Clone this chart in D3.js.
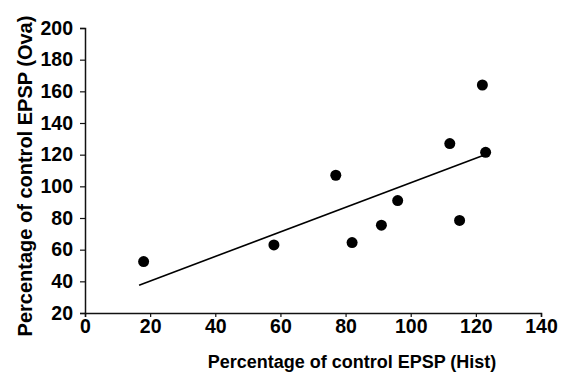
<!DOCTYPE html>
<html>
<head>
<meta charset="utf-8">
<script src="https://cdnjs.cloudflare.com/ajax/libs/d3/7.8.5/d3.min.js"></script>
<style>
  body { margin: 0; background: #fff; }
  svg { display: block; font-family: "Liberation Sans", Arial, sans-serif; }
</style>
</head>
<body>
<div class="viz"></div>
<script>
// values
let histValues = [18, 58, 77, 82, 91, 96, 112, 115, 122, 123];
let ovaValues  = [52.5, 63, 107, 64.5, 75.5, 91, 127, 78.5, 164, 121.5];
let fitLine = [[16.6, 37.6], [122.2, 119.4]];
let xTicks = [0, 20, 40, 60, 80, 100, 120, 140];
let yTicks = [20, 40, 60, 80, 100, 120, 140, 160, 180, 200];

let width = 565, height = 373;
let margin = {top: 28, right: 24, bottom: 60, left: 85};

let svg = d3.select('.viz').append('svg')
	.attr('width', width)
	.attr('height', height);

let x = d3.scaleLinear()
	.domain([0, 140])
	.range([margin.left, width - margin.right]);

let y = d3.scaleLinear()
	.domain([20, 200])
	.range([height - margin.bottom, margin.top]);

let xAxis = svg.append('g')
	.attr('transform', 'translate(0,' + (height - margin.bottom) + ')')
	.call(d3.axisBottom(x).tickValues(xTicks).tickSizeOuter(0).tickSize(4).tickPadding(2));

let yAxis = svg.append('g')
	.attr('transform', 'translate(' + margin.left + ',0)')
	.call(d3.axisLeft(y).tickValues(yTicks).tickSizeOuter(0).tickSize(5).tickPadding(7));

[xAxis, yAxis].forEach(function(a) {
	a.attr('font-family', null).attr('font-size', null);
	a.select('.domain').attr('stroke', '#111').attr('stroke-width', 1.5);
	a.selectAll('.tick line').attr('stroke', '#111').attr('stroke-width', 1.2);
	a.selectAll('.tick text')
		.attr('fill', '#000')
		.style('font-size', '19.5px')
		.style('font-weight', 'bold');
});

// regression line
svg.append('line')
	.attr('x1', x(fitLine[0][0]))
	.attr('y1', y(fitLine[0][1]))
	.attr('x2', x(fitLine[1][0]))
	.attr('y2', y(fitLine[1][1]))
	.attr('stroke', '#000')
	.attr('stroke-width', 1.6);

svg.append('g')
	.selectAll('circle')
	.data(histValues)
	.enter().append('circle')
	.attr('cx', function(d) { return x(d); })
	.attr('cy', function(d, i) { return y(ovaValues[i]); })
	.attr('r', 5.5)
	.attr('fill', '#000');

svg.append('text')
	.attr('x', 352)
	.attr('y', 368)
	.attr('text-anchor', 'middle')
	.style('font-size', '18px')
	.style('font-weight', 'bold')
	.text('Percentage of control EPSP (Hist)');

svg.append('text')
	.attr('transform', 'translate(32,176) rotate(-90)')
	.attr('text-anchor', 'middle')
	.style('font-size', '20px')
	.style('font-weight', 'bold')
	.text('Percentage of control EPSP (Ova)');
</script>
</body>
</html>
